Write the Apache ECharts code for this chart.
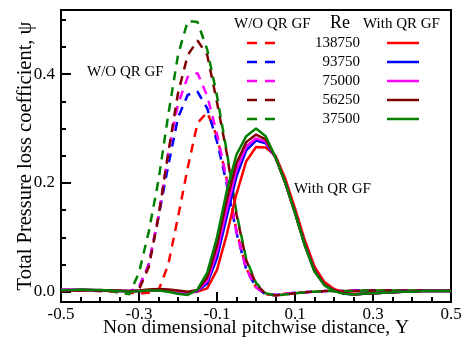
<!DOCTYPE html>
<html><head><meta charset="utf-8">
<script src="https://cdn.jsdelivr.net/npm/echarts@6/dist/echarts.min.js"></script>
<style>html,body{margin:0;padding:0;background:#fff}#c{width:462px;height:338px}</style>
</head><body><div id="c"></div>
<script>
// pitchwise positions
const Ypos = [-0.5,-0.475,-0.45,-0.425,-0.4,-0.375,-0.35,-0.325,-0.3,-0.275,-0.25,-0.225,-0.2,-0.175,-0.15,-0.125,-0.1,-0.075,-0.05,-0.025,0,0.025,0.05,0.075,0.1,0.125,0.15,0.175,0.2,0.225,0.25,0.275,0.3,0.325,0.35,0.375,0.4,0.425,0.45,0.475,0.5];
const reValues = ['138750','93750','75000','56250','37500'];
const xMajorTicks = [-0.5,-0.3,-0.1,0.1,0.3,0.5];
const xMinorTicks = [-0.45,-0.4,-0.35,-0.25,-0.2,-0.15,-0.05,0,0.05,0.15,0.2,0.25,0.35,0.4,0.45];
const yMajorTicks = [0,0.2,0.4];
const yMinorTicks = [0.05,0.1,0.15,0.25,0.3,0.35,0.45,0.5];

// W/O QR GF (dashed)
const wo138750 = [0.002,0.002,0.002,0.002,0.001,0.001,0.000,-0.002,-0.003,-0.002,0.002,0.050,0.137,0.228,0.310,0.330,0.285,0.207,0.112,0.043,0.008,-0.005,-0.006,-0.004,-0.002,-0.001,0.000,0.001,0.001,0.001,0.002,0.002,0.002,0.002,0.002,0.002,0.002,0.002,0.002,0.002,0.002];
const wo93750  = [0.003,0.003,0.002,0.002,0.002,0.001,0.001,0.000,0.008,0.050,0.138,0.232,0.320,0.362,0.368,0.337,0.276,0.198,0.108,0.041,0.008,-0.005,-0.006,-0.004,-0.002,-0.001,0.000,0.001,0.001,0.001,0.002,0.002,0.002,0.002,0.002,0.002,0.002,0.002,0.002,0.002,0.002];
const wo75000  = [0.003,0.003,0.003,0.002,0.002,0.001,0.001,0.000,0.008,0.050,0.140,0.255,0.345,0.395,0.402,0.360,0.290,0.205,0.110,0.042,0.008,-0.005,-0.006,-0.004,-0.002,-0.001,0.000,0.001,0.001,0.001,0.002,0.002,0.002,0.002,0.002,0.002,0.002,0.002,0.002,0.002,0.002];
const wo56250  = [0.002,0.002,0.002,0.002,0.001,0.001,0.000,-0.002,0.004,0.045,0.137,0.255,0.365,0.435,0.462,0.435,0.348,0.255,0.142,0.058,0.014,-0.004,-0.007,-0.005,-0.003,-0.001,0.000,0.001,0.001,0.001,0.001,0.002,0.002,0.002,0.002,0.002,0.002,0.002,0.002,0.002,0.002];
const wo37500  = [0.002,0.003,0.003,0.002,0.002,0.001,-0.002,-0.005,0.035,0.110,0.205,0.325,0.435,0.498,0.496,0.445,0.360,0.258,0.145,0.060,0.016,-0.003,-0.007,-0.005,-0.003,-0.001,0.000,0.001,0.001,0.001,0.001,0.002,0.002,0.002,0.002,0.002,0.002,0.002,0.002,0.002,0.002];

// With QR GF (solid)
const w138750 = [0.002,0.002,0.002,0.002,0.002,0.001,0.001,0.001,0.001,0.002,0.002,0.001,0.000,-0.002,0.000,0.006,0.040,0.105,0.180,0.240,0.266,0.265,0.250,0.208,0.153,0.095,0.046,0.018,0.005,-0.002,-0.004,-0.004,-0.003,-0.002,-0.001,0.000,0.000,0.001,0.001,0.001,0.001];
const w93750  = [0.002,0.003,0.003,0.003,0.002,0.002,0.001,0.001,0.001,0.002,0.002,0.002,0.000,-0.002,0.001,0.015,0.062,0.138,0.212,0.260,0.278,0.273,0.247,0.201,0.146,0.087,0.039,0.013,0.002,-0.003,-0.005,-0.004,-0.003,-0.002,-0.001,0.000,0.000,0.001,0.001,0.001,0.001];
const w75000  = [0.004,0.004,0.004,0.003,0.003,0.002,0.001,0.001,0.001,0.002,0.003,0.002,0.000,-0.002,0.002,0.020,0.073,0.152,0.224,0.267,0.282,0.276,0.247,0.200,0.145,0.086,0.038,0.013,0.002,-0.003,-0.005,-0.004,-0.003,-0.002,-0.001,0.000,0.000,0.001,0.001,0.001,0.001];
const w56250  = [0.002,0.002,0.003,0.003,0.002,0.002,0.002,0.001,0.002,0.004,0.005,0.004,0.002,0.000,0.003,0.026,0.085,0.168,0.236,0.275,0.289,0.280,0.247,0.200,0.145,0.086,0.038,0.013,0.002,-0.003,-0.005,-0.004,-0.003,-0.002,-0.001,0.000,0.000,0.001,0.001,0.001,0.001];
const w37500  = [0.003,0.003,0.004,0.003,0.003,0.002,0.001,0.000,0.001,0.002,0.002,0.000,-0.004,-0.006,0.004,0.035,0.100,0.185,0.252,0.286,0.300,0.286,0.247,0.200,0.145,0.085,0.037,0.012,0.001,-0.004,-0.005,-0.004,-0.003,-0.002,-0.001,0.000,0.000,0.001,0.001,0.001,0.001];

const woSets = [wo138750, wo93750, wo75000, wo56250, wo37500];
const wSets = [w138750, w93750, w75000, w56250, w37500];
const colors = ['#ff0000','#0000ff','#ff00ff','#800000','#008000'];
const FONT = 'Liberation Serif';

const series = [];
reValues.forEach((re, k) => {
  series.push({
    name: 'W/O QR GF ' + re, type: 'line', symbol: 'none', z: 2,
    data: Ypos.map((x, i) => [x, woSets[k][i]]),
    lineStyle: { color: colors[k], width: 2.5, type: [9, 7] },
    itemStyle: { color: colors[k] }
  });
});
reValues.forEach((re, k) => {
  series.push({
    name: 'With QR GF ' + re, type: 'line', symbol: 'none', z: 3,
    data: Ypos.map((x, i) => [x, wSets[k][i]]),
    lineStyle: { color: colors[k], width: 2.5, type: 'solid' },
    itemStyle: { color: colors[k] }
  });
});

// legend table drawn as graphics
const legendGraphics = [
  { type: 'text', x: 234, y: 24, style: { text: 'W/O QR GF', fontFamily: FONT, fontSize: 15, fill: '#000', align: 'left', verticalAlign: 'middle' } },
  { type: 'text', x: 330, y: 23, style: { text: 'Re', fontFamily: FONT, fontSize: 18, fill: '#000', align: 'left', verticalAlign: 'middle' } },
  { type: 'text', x: 363, y: 24, style: { text: 'With QR GF', fontFamily: FONT, fontSize: 15, fill: '#000', align: 'left', verticalAlign: 'middle' } },
  { type: 'text', x: 87, y: 72, style: { text: 'W/O QR GF', fontFamily: FONT, fontSize: 15, fill: '#000', align: 'left', verticalAlign: 'middle' } },
  { type: 'text', x: 294, y: 189, style: { text: 'With QR GF', fontFamily: FONT, fontSize: 15, fill: '#000', align: 'left', verticalAlign: 'middle' } }
];
reValues.forEach((re, k) => {
  const y = 43 + 19 * k;
  legendGraphics.push({ type: 'line', shape: { x1: 247, y1: y, x2: 276, y2: y }, style: { stroke: colors[k], lineWidth: 2.5, lineDash: [10, 8] } });
  legendGraphics.push({ type: 'text', x: 360, y: y, style: { text: re, fontFamily: FONT, fontSize: 15, fill: '#000', align: 'right', verticalAlign: 'middle' } });
  legendGraphics.push({ type: 'line', shape: { x1: 387, y1: y, x2: 419, y2: y }, style: { stroke: colors[k], lineWidth: 2.5 } });
});

const blackLine = { color: '#000', width: 2 };
const chart = echarts.init(document.getElementById('c'), null, { renderer: 'canvas' });
chart.setOption({
  animation: false,
  backgroundColor: '#fff',
  grid: { left: 61, right: 11, top: 10, bottom: 36, show: true, borderColor: '#000', borderWidth: 2, backgroundColor: 'transparent', containLabel: false, outerBoundsMode: 'none' },
  xAxis: [{
    type: 'value', min: -0.5, max: 0.5, position: 'bottom',
    name: 'Non dimensional pitchwise distance, Y', nameLocation: 'middle', nameGap: 16, nameMoveOverlap: false,
    nameTextStyle: { fontFamily: FONT, fontSize: 19.5, color: '#000' },
    axisLine: { onZero: false, lineStyle: blackLine },
    axisTick: { inside: true, length: 10, customValues: xMajorTicks, lineStyle: blackLine },
    axisLabel: { customValues: xMajorTicks, showMinLabel: true, showMaxLabel: true, fontFamily: FONT, fontSize: 17, color: '#000', margin: 4, formatter: v => String(+v.toFixed(1)) },
    splitLine: { show: false }
  }, {
    type: 'value', min: -0.5, max: 0.5, position: 'bottom',
    axisLine: { show: false, onZero: false },
    axisTick: { inside: true, length: 5, customValues: xMinorTicks, lineStyle: blackLine },
    axisLabel: { show: false }, splitLine: { show: false }
  }],
  yAxis: [{
    type: 'value', min: -0.019, max: 0.518, position: 'left',
    name: 'Total Pressure loss coefficient, ψ', nameLocation: 'middle', nameGap: 25, nameRotate: 90, nameMoveOverlap: false,
    nameTextStyle: { fontFamily: FONT, fontSize: 20.5, color: '#000' },
    axisLine: { onZero: false, lineStyle: blackLine },
    axisTick: { inside: true, length: 10, customValues: yMajorTicks, lineStyle: blackLine },
    axisLabel: { customValues: yMajorTicks, fontFamily: FONT, fontSize: 17, color: '#000', margin: 6, formatter: v => v.toFixed(1) },
    splitLine: { show: false }
  }, {
    type: 'value', min: -0.019, max: 0.518, position: 'left',
    axisLine: { show: false, onZero: false },
    axisTick: { inside: true, length: 5, customValues: yMinorTicks, lineStyle: blackLine },
    axisLabel: { show: false }, splitLine: { show: false }
  }],
  graphic: legendGraphics,
  series: series
});
</script></body></html>
